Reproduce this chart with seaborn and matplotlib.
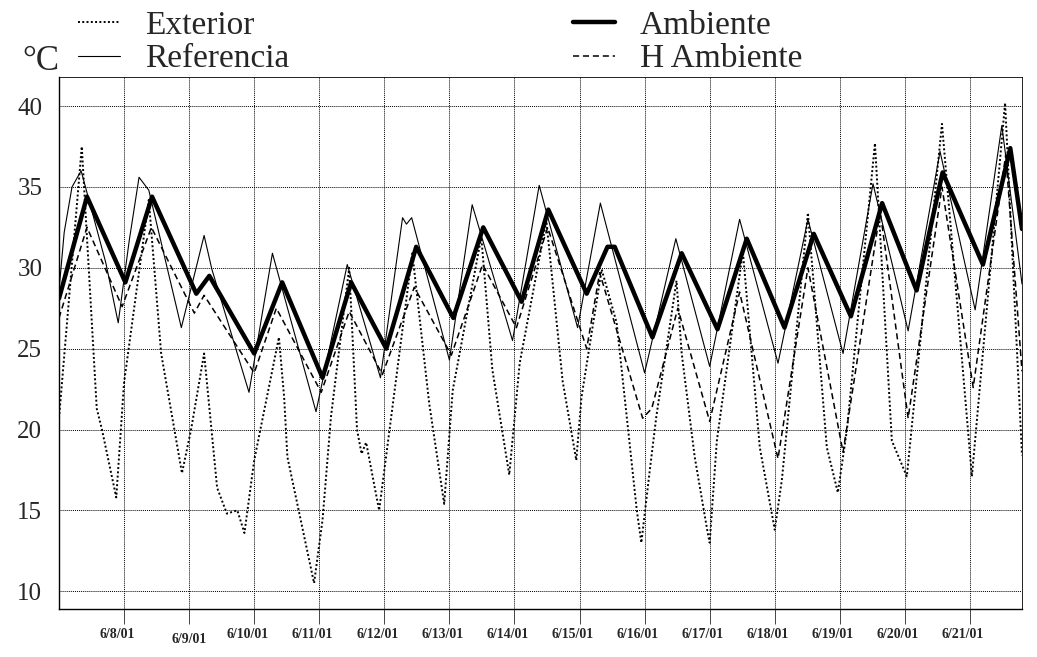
import numpy as np
import pandas as pd
import seaborn as sns
import matplotlib.pyplot as plt
import matplotlib.transforms as mtransforms

START = pd.Timestamp('2001-06-07')

# time = days since 6/7/01 00:00, values in °C
ext_t = [0.0, 0.35, 0.58, 0.66, 0.88, 1.0, 1.38, 1.57, 1.89, 2.03, 2.23, 2.43, 2.58, 2.74,
         2.85, 3.0, 3.38, 3.46, 3.51, 3.92, 4.05, 4.18, 4.46, 4.58, 4.65, 4.72, 4.92, 5.43,
         5.69, 5.92, 6.05, 6.49, 6.66, 6.92, 7.08, 7.49, 7.74, 7.95, 8.03, 8.34, 8.57, 8.88,
         8.95, 9.08, 9.18, 9.49, 9.57, 9.77, 9.97, 10.0, 10.11, 10.51, 10.77, 11.0, 11.11,
         11.51, 11.8, 11.97, 12.11, 12.54, 12.8, 13.03, 13.57, 14.03, 14.54, 14.8]
ext_v = [20.7, 37.5, 21.3, 20.0, 15.8, 22.9, 34.2, 24.7, 17.3, 20.0, 24.7, 16.4, 14.8, 15.0,
         13.6, 18.1, 25.7, 22.0, 18.3, 10.5, 14.4, 20.8, 30.0, 20.0, 18.5, 19.2, 15.0, 30.9,
         21.6, 15.4, 22.4, 31.9, 23.7, 17.2, 24.1, 32.9, 23.0, 18.1, 22.0, 29.9, 26.6, 15.0,
         13.0, 17.5, 20.8, 29.2, 24.7, 18.3, 13.6, 13.0, 19.3, 31.0, 18.9, 13.8, 16.9,
         33.4, 18.9, 16.1, 20.0, 37.7, 19.3, 17.1, 38.9, 17.1, 40.2, 18.4]

ref_t = [0.0, 0.08, 0.2, 0.34, 0.72, 0.91, 1.08, 1.23, 1.38, 1.88, 2.23, 2.35, 2.92, 3.28,
         3.95, 4.43, 4.94, 5.28, 5.34, 5.42, 6.0, 6.35, 6.97, 7.38, 7.97, 8.32, 9.0, 9.48,
         10.0, 10.46, 11.05, 11.51, 12.05, 12.51, 13.05, 13.54, 14.08, 14.49, 14.8]
ref_v = [28.6, 32.2, 35.0, 36.0, 30.3, 26.6, 31.7, 35.6, 34.8, 26.3, 32.0, 29.9, 22.3, 30.9,
         21.1, 30.2, 23.2, 33.1, 32.7, 33.1, 24.3, 33.9, 25.5, 35.1, 26.3, 34.0, 23.5, 31.8,
         23.9, 33.0, 24.1, 33.0, 24.7, 35.2, 26.1, 37.2, 27.4, 38.8, 29.0]

amb_t = [0.0, 0.43, 1.02, 1.43, 2.11, 2.31, 3.0, 3.43, 4.05, 4.49, 5.03, 5.49, 6.06, 6.52,
         7.11, 7.52, 8.11, 8.43, 8.54, 9.12, 9.57, 10.12, 10.57, 11.15, 11.6, 12.17, 12.65,
         13.18, 13.58, 14.2, 14.62, 14.8]
amb_v = [28.1, 34.4, 29.1, 34.4, 28.4, 29.5, 24.7, 29.1, 23.2, 29.1, 25.0, 31.3, 26.9, 32.5,
         27.9, 33.6, 28.4, 31.3, 31.3, 25.7, 30.9, 26.2, 31.8, 26.3, 32.1, 27.0, 34.0,
         28.6, 35.9, 30.2, 37.4, 32.4]

hamb_t = [0.0, 0.43, 0.97, 1.42, 2.08, 2.23, 3.0, 3.34, 4.03, 4.46, 4.97, 5.46, 6.03, 6.51,
          7.03, 7.51, 8.11, 8.31, 8.97, 9.11, 9.51, 10.0, 10.46, 11.05, 11.51, 12.05, 12.62,
          13.05, 13.57, 14.05, 14.55, 14.8]
hamb_v = [26.9, 32.5, 27.6, 32.5, 27.2, 28.3, 23.5, 27.5, 22.3, 27.3, 23.4, 28.8, 24.6, 30.2,
          26.3, 32.5, 25.0, 29.7, 20.7, 21.3, 27.5, 20.5, 28.5, 18.2, 30.0, 18.6, 33.5,
          20.7, 35.0, 22.6, 37.0, 23.6]

tick_days = list(range(1, 15))
tick_labels = ['6/8/01', '6/9/01', '6/10/01', '6/11/01', '6/12/01', '6/13/01', '6/14/01',
               '6/15/01', '6/16/01', '6/17/01', '6/18/01', '6/19/01', '6/20/01', '6/21/01']
y_ticks = [10, 15, 20, 25, 30, 35, 40]


def to_dates(t):
    return START + pd.to_timedelta(np.asarray(t), unit='D')


sns.set_theme(style='white', rc={'axes.edgecolor': 'black', 'axes.linewidth': 1.0})
plt.rcParams['font.family'] = ['Liberation Serif', 'DejaVu Serif']

fig = plt.figure(figsize=(10.37, 6.57), dpi=100)
ax = fig.add_axes([59 / 1037, 48 / 657, 963 / 1037, 532 / 657])

sns.lineplot(x=to_dates(ext_t), y=ext_v, ax=ax, color='black', lw=1.4,
             linestyle=(0, (1, 1.2)), label='Exterior', zorder=3)
sns.lineplot(x=to_dates(ref_t), y=ref_v, ax=ax, color='black', lw=0.8,
             label='Referencia', zorder=4)
sns.lineplot(x=to_dates(amb_t), y=amb_v, ax=ax, color='black', lw=3.2,
             label='Ambiente', zorder=5)
sns.lineplot(x=to_dates(hamb_t), y=hamb_v, ax=ax, color='black', lw=1.1,
             linestyle=(0, (4, 2.5)), label='H Ambiente', zorder=4)

ax.set_xlim(to_dates([0.0])[0], to_dates([14.8])[0])
ax.set_ylim(8.9, 41.8)
ax.set_xticks(to_dates(tick_days))
ax.set_xticklabels(tick_labels, fontsize=10, fontweight='bold')
ax.set_yticks(y_ticks)
ax.set_yticklabels([str(v) for v in y_ticks], fontsize=18)
ax.set_xlabel('')
ax.set_ylabel('')

ax.grid(True, color='black', linestyle=(0, (1, 1)), linewidth=0.7)
ax.tick_params(axis='x', length=11, width=0.7, color='#444444', direction='out', pad=3,
               bottom=True)
ax.tick_params(axis='y', length=0, pad=12)
for lab in ax.get_xticklabels():
    lab.set_transform(lab.get_transform() + mtransforms.ScaledTranslation(-7 / 100, 0, fig.dpi_scale_trans))
ax.xaxis.get_major_ticks()[1].set_pad(6)
for side in ['top', 'right']:
    ax.spines[side].set_linewidth(0.6)

handles, labels = ax.get_legend_handles_labels()
ax.get_legend().remove()
fig.legend(handles, labels, ncol=2, loc='upper left', bbox_to_anchor=(71 / 1037, 1 - 4 / 657),
           frameon=False, fontsize=24, handlelength=1.27, handletextpad=0.75,
           columnspacing=8.5, labelspacing=0.08, borderaxespad=0.0, borderpad=0.2)
fig.text(22 / 1037, 1 - 62 / 657, '°C', fontsize=25, va='center', ha='left')

fig.savefig('out.png', dpi=100)
